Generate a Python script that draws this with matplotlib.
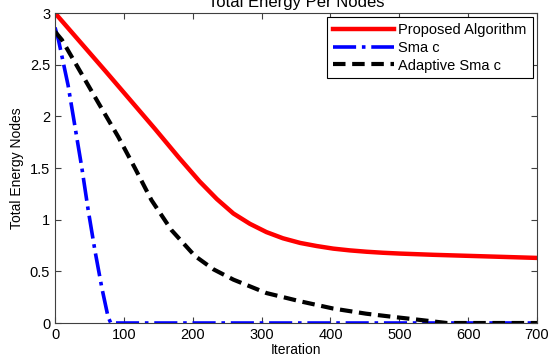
import matplotlib
matplotlib.use("Agg")
import matplotlib.pyplot as plt

plt.rcParams['font.family'] = ['Liberation Sans', 'DejaVu Sans']
plt.rcParams['font.size'] = 10

# Proposed Algorithm
prop_x = [0, 73, 145, 180, 210, 235, 259, 283, 307, 331, 356, 380, 404, 428, 452, 476, 501, 550, 600, 650, 700]
prop_y = [3.0, 2.44, 1.88, 1.6, 1.37, 1.2, 1.06, 0.96, 0.88, 0.82, 0.775, 0.745, 0.72, 0.703, 0.69, 0.68, 0.672, 0.66, 0.65, 0.64, 0.63]

# Smac
smac_x = [0, 5, 19, 29, 39, 48, 58, 68, 77, 81, 700]
smac_y = [2.86, 2.74, 2.3, 1.9, 1.5, 1.1, 0.7, 0.34, 0.06, 0.0, 0.0]

# Adaptive Smac
adap_x = [0, 10, 63, 92, 116, 140, 169, 203, 230, 259, 307, 356, 404, 452, 490, 530, 569, 700]
adap_y = [2.82, 2.74, 2.13, 1.8, 1.5, 1.19, 0.90, 0.65, 0.52, 0.42, 0.29, 0.21, 0.14, 0.09, 0.06, 0.03, 0.0, 0.0]

fig = plt.figure(figsize=(5.48, 3.62), dpi=100)
ax = fig.add_axes([0.1004, 0.1077, 0.8796, 0.8563])

ax.plot(prop_x, prop_y, color='#ff0000', linewidth=3.2, label='Proposed Algorithm')
ax.plot(smac_x, smac_y, color='#0000ff', linewidth=2.6, linestyle='-.', label='Sma c')
ax.plot(adap_x, adap_y, color='black', linewidth=3.0, linestyle=(0, (3, 1.6)), label='Adaptive Sma c')

ax.set_xlim(0, 700)
ax.set_ylim(0, 3)
ax.set_xticks(range(0, 701, 100))
ax.set_yticks([0, 0.5, 1, 1.5, 2, 2.5, 3])
ax.set_yticklabels(['0', '0.5', '1', '1.5', '2', '2.5', '3'])
ax.tick_params(direction='in', top=True, right=True, length=4, color='#404040', labelsize=10.5)
for s in ax.spines.values():
    s.set_color('#404040')
ax.set_xlabel('Iteration', labelpad=1)
ax.set_ylabel('Total Energy Nodes', labelpad=4)
ax.set_title('Total Energy Per Nodes', pad=4)

leg = ax.legend(loc='upper right', fancybox=False, edgecolor='black', framealpha=1,
                handlelength=4.2, borderaxespad=0.3, labelspacing=0.25, handletextpad=0.3,
                fontsize=10.5)
leg.get_frame().set_linewidth(0.8)

fig.savefig('out.png', dpi=100)
